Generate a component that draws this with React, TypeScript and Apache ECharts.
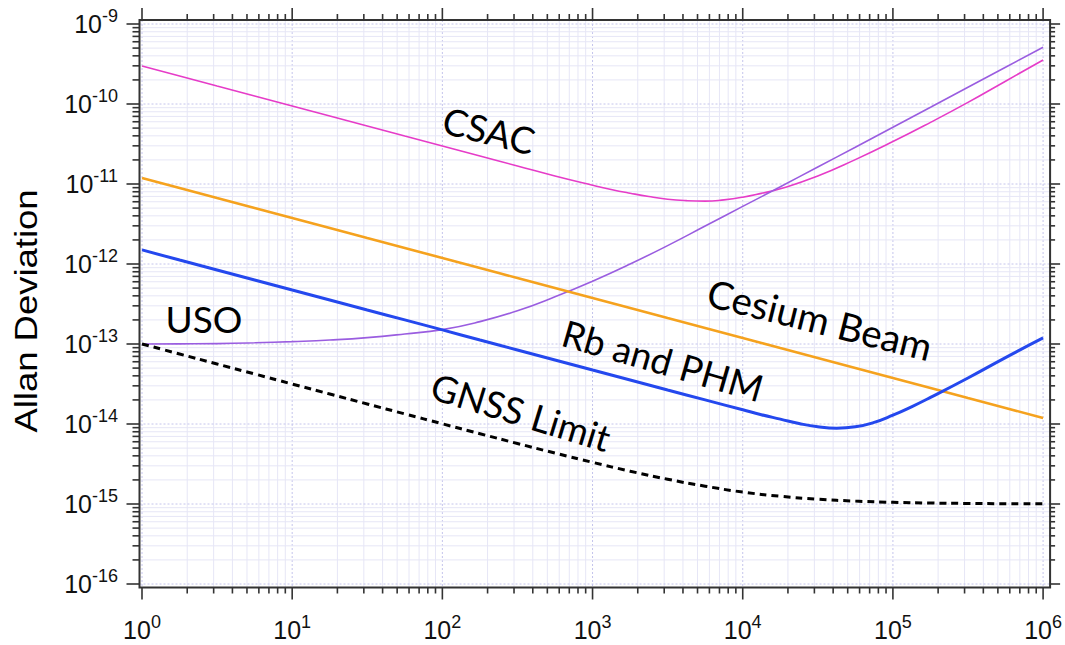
import React, { useEffect, useRef } from 'react';
import * as echarts from 'echarts';

// Averaging time tau (s), quarter-decade steps, shared by USO, Cesium and GNSS
const TAU = [1, 1.78, 3.16, 5.62, 10, 17.8, 31.6, 56.2, 100, 178, 316, 562, 1000, 1780, 3160, 5620, 1e4, 17800, 31600, 56200, 1e5, 178000, 316000, 562000, 1e6];
// CSAC and Rb have extra readings around their minima
const CSAC_TAU = [1, 1.78, 3.16, 5.62, 10, 17.8, 31.6, 56.2, 100, 178, 316, 562, 1000, 1330, 1780, 2370, 3160, 4220, 5620, 7500, 1e4, 13300, 17800, 31600, 56200, 1e5, 178000, 316000, 562000, 1e6];
const RB_TAU = [1, 1.78, 3.16, 5.62, 10, 17.8, 31.6, 56.2, 100, 178, 316, 562, 1000, 1780, 3160, 5620, 1e4, 13300, 17800, 23700, 31600, 42200, 56200, 75000, 1e5, 133000, 178000, 316000, 562000, 1e6];

// Allan deviation
const CSAC = [2.985e-10, 2.239e-10, 1.679e-10, 1.259e-10, 9.44e-11, 7.08e-11, 5.31e-11, 3.98e-11, 2.985e-11, 2.239e-11, 1.679e-11, 1.259e-11, 9.66e-12, 8.55e-12, 7.67e-12, 6.97e-12, 6.46e-12, 6.19e-12, 6.1e-12, 6.34e-12, 6.84e-12, 7.64e-12, 8.71e-12, 1.259e-11, 2.018e-11, 3.39e-11, 5.89e-11, 1.047e-10, 1.928e-10, 3.55e-10];
const USO = [1.0e-13, 1.005e-13, 1.012e-13, 1.035e-13, 1.072e-13, 1.122e-13, 1.202e-13, 1.334e-13, 1.514e-13, 1.905e-13, 2.6e-13, 3.89e-13, 6.1e-13, 1.0e-12, 1.698e-12, 2.985e-12, 5.25e-12, 9.23e-12, 1.633e-11, 2.884e-11, 5.13e-11, 9.12e-11, 1.622e-10, 2.884e-10, 5.13e-10];
const CESIUM = [1.189e-11, 8.91e-12, 6.68e-12, 5.01e-12, 3.76e-12, 2.82e-12, 2.11e-12, 1.585e-12, 1.19e-12, 8.91e-13, 6.68e-13, 5.01e-13, 3.76e-13, 2.82e-13, 2.11e-13, 1.585e-13, 1.19e-13, 8.91e-14, 6.68e-14, 5.01e-14, 3.76e-14, 2.82e-14, 2.11e-14, 1.585e-14, 1.19e-14];
const RB = [1.5e-12, 1.12e-12, 8.41e-13, 6.31e-13, 4.73e-13, 3.55e-13, 2.66e-13, 2.0e-13, 1.5e-13, 1.12e-13, 8.41e-14, 6.31e-14, 4.73e-14, 3.55e-14, 2.66e-14, 2.0e-14, 1.505e-14, 1.308e-14, 1.15e-14, 1.014e-14, 9.24e-15, 8.87e-15, 9.21e-15, 1.048e-14, 1.29e-14, 1.641e-14, 2.15e-14, 3.76e-14, 6.76e-14, 1.19e-13];
const GNSS = [1.0e-13, 7.5e-14, 5.62e-14, 4.22e-14, 3.16e-14, 2.37e-14, 1.78e-14, 1.337e-14, 1.005e-14, 7.56e-15, 5.71e-15, 4.33e-15, 3.32e-15, 2.57e-15, 2.04e-15, 1.67e-15, 1.41e-15, 1.25e-15, 1.147e-15, 1.087e-15, 1.05e-15, 1.028e-15, 1.016e-15, 1.009e-15, 1.005e-15];

const X_MIN = 1;
const X_MAX = 1e6;
const Y_MIN = 1e-16;
const Y_MAX = 1e-9;
const SERIES_NAMES = ['CSAC', 'USO', 'Cesium Beam', 'Rb and PHM', 'GNSS Limit'];
const Y_TITLE = 'Allan Deviation';

const pairs = (xs: number[], ys: number[]) => xs.map((t, i) => [t, ys[i]]);

const LABEL_FONT = 'Lato';
const TICK_FONT = '"Liberation Sans", Arial, sans-serif';

const renderFrame = (params: any, api: any) => {
  const cs = params.coordSys;
  const L = cs.x - 2.5;
  const R = cs.x + cs.width + 7;
  const T = cs.y - 4;
  const B = cs.y + cs.height + 3.5;
  const kids: any[] = [];
  const line = (x1: number, y1: number, x2: number, y2: number, style: any) =>
    kids.push({ type: 'line', shape: { x1, y1, x2, y2 }, style, silent: true });
  const majorGrid = { stroke: '#c4c4ec', lineWidth: 1, lineDash: [2, 2] };
  const minorGrid = { stroke: '#e6e6f6', lineWidth: 1 };
  const tick = { stroke: '#333', lineWidth: 1.6 };
  const xe0 = Math.round(Math.log10(X_MIN));
  const xe1 = Math.round(Math.log10(X_MAX));
  for (let e = xe0; e <= xe1; e++) {
    for (let k = 1; k <= 9; k++) {
      if (e === xe1 && k > 1) break;
      const v = k * Math.pow(10, e);
      const px = api.coord([v, Y_MIN])[0];
      const major = k === 1;
      line(px, T, px, B, major ? majorGrid : minorGrid);
      const len = major ? 12 : 6;
      line(px, T, px, T - len, tick);
      line(px, B, px, B + len, tick);
    }
  }
  const ye0 = Math.round(Math.log10(Y_MIN));
  const ye1 = Math.round(Math.log10(Y_MAX));
  for (let e = ye0; e <= ye1; e++) {
    for (let k = 1; k <= 9; k++) {
      if (e === ye1 && k > 1) break;
      const v = k * Math.pow(10, e);
      const py = api.coord([X_MIN, v])[1];
      const major = k === 1;
      line(L, py, R, py, major ? majorGrid : minorGrid);
      const len = major ? 13 : 7;
      line(L, py, L - len, py, tick);
      line(R, py, R + (major ? 10 : 5), py, tick);
    }
  }
  kids.push({
    type: 'rect',
    shape: { x: L, y: T, width: R - L, height: B - T },
    style: { fill: 'none', stroke: '#333', lineWidth: 2 },
    silent: true,
  });
  return { type: 'group', children: kids };
};

const expFormatter = (value: number) => {
  const e = Math.round(Math.log10(value));
  return `{b|10}{s|${e}}`;
};

const richLabels = {
  b: { fontSize: 25, fontFamily: TICK_FONT, color: '#111' },
  s: { fontSize: 18, fontFamily: TICK_FONT, color: '#111', padding: [0, 0, 16, 0] },
};

const ANNOTATIONS = [
  { name: SERIES_NAMES[0], x: 489, y: 130, rot: -14, size: 37 },
  { name: SERIES_NAMES[1], x: 204, y: 318, rot: 0, size: 37 },
  { name: SERIES_NAMES[2], x: 820, y: 319, rot: -14, size: 38.5 },
  { name: SERIES_NAMES[3], x: 663, y: 360, rot: -16, size: 37 },
  { name: SERIES_NAMES[4], x: 521, y: 412, rot: -17, size: 37 },
];

export default function App() {
  const ref = useRef<HTMLDivElement>(null);
  useEffect(() => {
    document.body.style.margin = '0';
    if (!ref.current) return;
    const chart = echarts.init(ref.current, undefined, { renderer: 'svg' });
    const lineSeries = (name: string, xs: number[], ys: number[], color: string, width: number, dash?: number[]) => ({
      name,
      type: 'line',
      data: pairs(xs, ys),
      showSymbol: false,
      symbol: 'none',
      smooth: 0.5,
      z: 3,
      lineStyle: { color, width, type: dash ? dash : 'solid', cap: 'butt' },
      silent: true,
    });
    chart.setOption({
      animation: false,
      backgroundColor: '#fff',
      grid: { left: 142, right: 17, top: 24, bottom: 61 },
      xAxis: {
        type: 'log',
        logBase: 10,
        min: X_MIN,
        max: X_MAX,
        interval: 1,
        splitNumber: 6,
        axisLine: { show: false },
        axisTick: { show: false },
        splitLine: { show: false },
        axisLabel: { margin: 29, formatter: expFormatter, rich: richLabels },
      },
      yAxis: {
        type: 'log',
        logBase: 10,
        min: Y_MIN,
        max: Y_MAX,
        interval: 1,
        splitNumber: 7,
        axisLine: { show: false },
        axisTick: { show: false },
        splitLine: { show: false },
        axisLabel: { margin: 24, formatter: expFormatter, rich: richLabels },
      },
      series: [
        {
          type: 'custom',
          renderItem: renderFrame,
          data: [[X_MIN, Y_MIN]],
          clip: false,
          silent: true,
          z: 1,
        },
        lineSeries(SERIES_NAMES[0], CSAC_TAU, CSAC, '#e63cc8', 1.6),
        lineSeries(SERIES_NAMES[1], TAU, USO, '#9a5de0', 1.6),
        lineSeries(SERIES_NAMES[2], TAU, CESIUM, '#f5a21e', 2.6),
        lineSeries(SERIES_NAMES[3], RB_TAU, RB, '#2448ee', 3),
        lineSeries(SERIES_NAMES[4], TAU, GNSS, '#000', 3, [7, 5]),
      ],
      graphic: [
        ...ANNOTATIONS.map((a) => ({
          type: 'text',
          x: a.x,
          y: a.y,
          rotation: (a.rot * Math.PI) / 180,
          z: 10,
          style: {
            text: a.name,
            fill: '#000',
            font: `${a.size}px ${LABEL_FONT}`,
            align: 'center',
            verticalAlign: 'middle',
            textAlign: 'center',
            textVerticalAlign: 'middle',
          },
        })),
        {
          type: 'text',
          x: 26,
          y: 311,
          rotation: Math.PI / 2,
          scaleX: 1.14,
          z: 10,
          style: {
            text: Y_TITLE,
            fill: '#000',
            font: `32px ${TICK_FONT}`,
            align: 'center',
            verticalAlign: 'middle',
            textAlign: 'center',
            textVerticalAlign: 'middle',
          },
        },
      ],
    });
    return () => chart.dispose();
  }, []);
  return <div ref={ref} style={{ width: 1065, height: 645 }} />;
}
